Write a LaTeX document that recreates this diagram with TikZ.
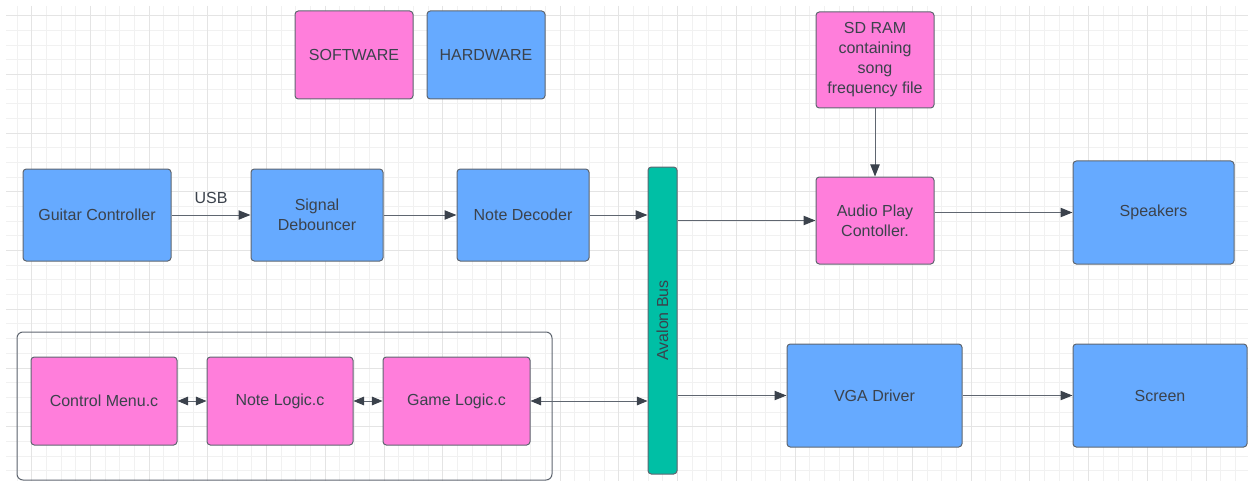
\documentclass[tikz,border=0pt]{standalone}
\usepackage{fontspec}
\setmainfont{Liberation Sans}
\usetikzlibrary{arrows.meta}
\definecolor{swpink}{HTML}{FF7EDB}
\definecolor{hwblue}{HTML}{66AAFF}
\definecolor{busteal}{HTML}{00BFA5}
\definecolor{edgegray}{HTML}{5F6670}
\definecolor{inkgray}{HTML}{3B424C}
\definecolor{gridminor}{HTML}{F1F1F1}
\definecolor{gridmajor}{HTML}{E4E4E4}
\tikzset{every picture/.style={line width=0.75pt}}
\tikzset{
  block/.style={draw=edgegray, rounded corners=2.5pt, inner sep=0pt, align=center, text=inkgray, font=\fontsize{12}{15}\selectfont},
  swbox/.style={block, fill=swpink},
  hwbox/.style={block, fill=hwblue},
  busbar/.style={block, fill=busteal},
  link/.style={draw=edgegray, -{Triangle[length=9pt,width=7pt,color=inkgray]}},
  duallink/.style={draw=edgegray, {Triangle[length=8pt,width=6.5pt,color=inkgray]}-{Triangle[length=8pt,width=6.5pt,color=inkgray]}},
}

\begin{document}
\begin{tikzpicture}[x=0.75pt,y=0.75pt,yscale=-1,xscale=1]
\useasboundingbox (0,0) rectangle (1248,481);

%Grid
\foreach \i [evaluate=\i as \gx using 2.34+\i*14.68] in {1,...,84}
  \draw [gridminor] (\gx,6) -- (\gx,481);
\foreach \j [evaluate=\j as \gy using 1.02+\j*14.68] in {1,...,32}
  \draw [gridminor] (6,\gy) -- (1248,\gy);
\foreach \i [evaluate=\i as \gx using 31.7+\i*58.72] in {0,...,20}
  \draw [gridmajor] (\gx,6) -- (\gx,481);
\foreach \j [evaluate=\j as \gy using 15.7+\j*58.72] in {0,...,7}
  \draw [gridmajor] (6,\gy) -- (1248,\gy);

%Shape: Rounded Rect (software group)
\draw [draw=edgegray, rounded corners=4.5pt] (17,332) rectangle (552,480);

% Legend
\node [swbox, minimum width=88.5pt, minimum height=66pt] (software) at (354,55) {SOFTWARE};
\node [hwbox, minimum width=88.5pt, minimum height=66pt] (hardware) at (486,55) {HARDWARE};

% Input chain
\node [hwbox, minimum width=111pt, minimum height=69pt] (guitar) at (97,215) {Guitar Controller};
\node [hwbox, minimum width=99pt, minimum height=69pt] (debouncer) at (317,215) {Signal\\Debouncer};
\node [hwbox, minimum width=99pt, minimum height=69pt] (decoder) at (523,215) {Note Decoder};

% Bus
\node [busbar, minimum width=21.75pt, minimum height=230.25pt] (bus) at (662.5,320.5) {};
\node [rotate=90, text=inkgray, font=\fontsize{12}{15}\selectfont] (buslabel) at (bus.center) {Avalon Bus};

% Audio side
\node [swbox, minimum width=88.5pt, minimum height=72pt] (sdram) at (875,60) {SD RAM\\containing\\song\\frequency file};
\node [swbox, minimum width=88.5pt, minimum height=65.25pt] (audio) at (875,220.5) {Audio Play\\Contoller.};
\node [hwbox, minimum width=120.75pt, minimum height=77.25pt] (speakers) at (1153.5,212.5) {Speakers};

% Video side
\node [hwbox, minimum width=131.25pt, minimum height=77.25pt] (vga) at (874.5,395.5) {VGA Driver};
\node [hwbox, minimum width=130.5pt, minimum height=77.25pt] (screen) at (1160,395.5) {Screen};

% Software
\node [swbox, minimum width=109.5pt, minimum height=66pt] (menu) at (104,401) {Control Menu.c};
\node [swbox, minimum width=109.5pt, minimum height=66pt] (notelogic) at (280,401) {Note Logic.c};
\node [swbox, minimum width=110.25pt, minimum height=66pt] (gamelogic) at (456.5,401) {Game Logic.c};

%Connectors
\draw [link] (guitar) -- node [midway, above=5pt, text=inkgray, font=\fontsize{12}{15}\selectfont] (usb) {USB} (debouncer);
\draw [link] (debouncer) -- (decoder);
\draw [link] (decoder.east) -- (decoder.east -| bus.west);
\draw [link] (bus.east |- audio.west) -- (audio.west);
\draw [link] (sdram) -- (audio);
\draw [link] (audio.east |- speakers.west) -- (speakers.west);
\draw [link] (bus.east |- vga.west) -- (vga.west);
\draw [link] (vga) -- (screen);
\draw [duallink] (gamelogic.east) -- (gamelogic.east -| bus.west);
\draw [duallink] (menu) -- (notelogic);
\draw [duallink] (notelogic) -- (gamelogic);

\end{tikzpicture}
\end{document}
